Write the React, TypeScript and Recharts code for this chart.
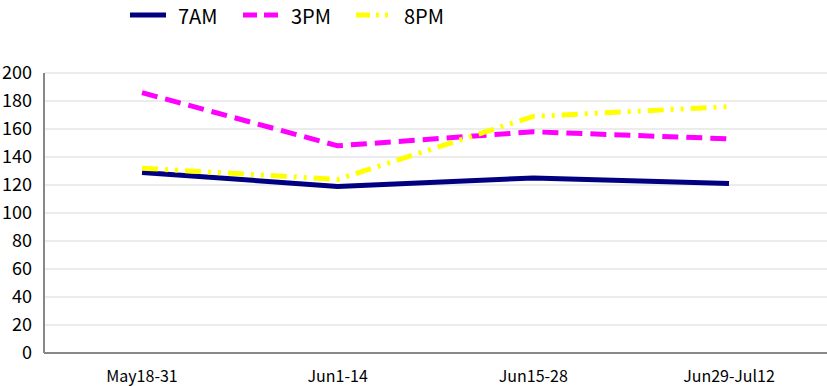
import React from 'react';
import { LineChart, Line, XAxis, YAxis, CartesianGrid } from 'recharts';

const periods = ['May18-31', 'Jun1-14', 'Jun15-28', 'Jun29-Jul12'];
const am7 = [129, 119, 125, 121];
const pm3 = [186, 148, 158, 153];
const pm8 = [132, 124, 169, 176];
const yTicks = [0, 20, 40, 60, 80, 100, 120, 140, 160, 180, 200];

const data = periods.map((p, i) => ({ period: p, am7: am7[i], pm3: pm3[i], pm8: pm8[i] }));

const FONT = '"Noto Sans CJK KR", "Noto Sans", sans-serif';

const legendItems = [
  { label: '7AM', color: '#000080', dash: undefined, left: 130 },
  { label: '3PM', color: '#ff00ff', dash: '14 7', left: 243 },
  { label: '8PM', color: '#ffff00', dash: '14 6 3 6 3 6', left: 356 },
];

export default function App() {
  return (
    <div style={{ position: 'absolute', left: 0, top: 0, width: 827, height: 386, background: '#fff', fontFamily: FONT }}>
      {legendItems.map((it) => (
        <div key={it.label} style={{ position: 'absolute', left: it.left, top: 0, height: 30, display: 'flex', alignItems: 'center' }}>
          <svg width={40} height={10}>
            <line x1={0} y1={5} x2={36} y2={5} stroke={it.color} strokeWidth={5} strokeDasharray={it.dash} />
          </svg>
          <span style={{ marginLeft: 8, fontSize: 20, color: '#000' }}>{it.label}</span>
        </div>
      ))}
      <LineChart width={827} height={386} data={data} margin={{ top: 73, right: 0, left: 0, bottom: 0 }}>
        <CartesianGrid vertical={false} stroke="#d9d9d9" strokeWidth={1} />
        <XAxis
          dataKey="period"
          height={33}
          padding={{ left: 98, right: 98 }}
          axisLine={{ stroke: '#888', strokeWidth: 2 }}
          tickLine={false}
          tick={{ fill: '#000', fontSize: 16, fontFamily: FONT, dy: 10 }}
        />
        <YAxis
          width={44}
          domain={[0, 200]}
          ticks={yTicks}
          interval={0}
          axisLine={{ stroke: '#888', strokeWidth: 2 }}
          tickLine={false}
          tick={{ fill: '#000', fontSize: 18, fontFamily: FONT, dx: -4 }}
        />
        <Line type="linear" dataKey="am7" stroke="#000080" strokeWidth={5} dot={false} isAnimationActive={false} />
        <Line type="linear" dataKey="pm3" stroke="#ff00ff" strokeWidth={5} strokeDasharray="16 8" dot={false} isAnimationActive={false} />
        <Line type="linear" dataKey="pm8" stroke="#ffff00" strokeWidth={5} strokeDasharray="16 7 3 7 3 7" dot={false} isAnimationActive={false} />
      </LineChart>
    </div>
  );
}
